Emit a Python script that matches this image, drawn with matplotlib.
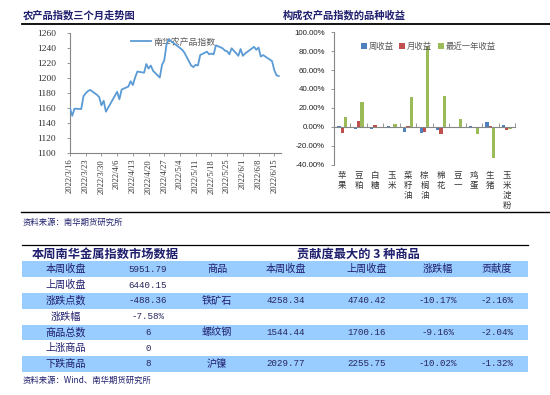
import matplotlib
matplotlib.use("Agg")
import matplotlib.pyplot as plt
import matplotlib.dates as mdates
from matplotlib.patches import Rectangle
from matplotlib.ticker import FuncFormatter, FixedLocator
import pandas as pd
import numpy as np

CJK = ['Noto Sans CJK SC', 'DejaVu Sans']
plt.rcParams['font.family'] = CJK
NAVY = '#1f1f6e'
GRAY_TXT = '#595959'
AXIS_C = '#868686'

# ---- 农产品指数 (line chart)
dates = ['2022-03-16', '2022-03-17', '2022-03-18', '2022-03-21', '2022-03-22', '2022-03-23',
         '2022-03-24', '2022-03-25', '2022-03-28', '2022-03-29', '2022-03-30', '2022-03-31',
         '2022-04-01', '2022-04-06', '2022-04-07', '2022-04-08', '2022-04-11', '2022-04-12',
         '2022-04-13', '2022-04-14', '2022-04-15', '2022-04-18', '2022-04-19', '2022-04-20',
         '2022-04-21', '2022-04-22', '2022-04-25', '2022-04-26', '2022-04-27', '2022-04-28',
         '2022-04-29', '2022-05-05', '2022-05-06', '2022-05-09', '2022-05-10', '2022-05-11',
         '2022-05-12', '2022-05-13', '2022-05-16', '2022-05-17', '2022-05-18', '2022-05-19',
         '2022-05-20', '2022-05-23', '2022-05-24', '2022-05-25', '2022-05-26', '2022-05-27',
         '2022-05-30', '2022-05-31', '2022-06-01', '2022-06-02', '2022-06-06', '2022-06-07',
         '2022-06-08', '2022-06-09', '2022-06-10', '2022-06-13', '2022-06-14', '2022-06-15',
         '2022-06-16', '2022-06-17']
index_vals = [1160, 1150, 1159.5, 1159, 1176, 1180,
              1183, 1184.5, 1178, 1175, 1164, 1170,
              1155.5, 1182, 1172, 1185, 1189, 1196,
              1191, 1201, 1209, 1207.5, 1219, 1213,
              1217, 1210, 1201, 1218, 1224, 1245,
              1252, 1238, 1234, 1217, 1215, 1218,
              1217, 1231, 1235.5, 1232, 1233, 1232,
              1244, 1240, 1237, 1236, 1232, 1240,
              1230, 1239, 1230, 1233, 1242, 1238,
              1241, 1229, 1231, 1225, 1223, 1211,
              1204, 1203]
tick_dates = ['2022-03-16', '2022-03-23', '2022-03-30', '2022-04-06', '2022-04-13', '2022-04-20',
              '2022-04-27', '2022-05-04', '2022-05-11', '2022-05-18', '2022-05-25', '2022-06-01',
              '2022-06-08', '2022-06-15']
line_label = '南华农产品指数'

# ---- 品种收益 (bar chart), percent
crops = ['苹果', '豆粕', '白糖', '玉米', '菜籽油', '棕榈油', '棉花', '豆一', '鸡蛋', '生猪', '玉米淀粉']
week_ret = [0.3, -2.0, -2.8, 0.7, -6.0, -6.4, -3.9, 0.1, 0.7, 4.6, 1.8]
month_ret = [-6.4, 6.4, 1.8, -1.5, 0.7, -5.3, -8.1, 0.1, -0.5, 1.0, -3.2]
year_ret = [10.6, 25.8, -1.0, 2.8, 31.1, 85.0, 32.5, 8.1, -7.8, -33.4, -2.8]
bar_series = ['周收益', '月收益', '最近一年收益']
bar_colors = ['#4f81bd', '#c0504d', '#9bbb59']

# ---- tables
left_labels = ['本周收盘', '上周收盘', '涨跌点数', '涨跌幅', '商品总数', '上涨商品', '下跌商品']
left_values = ['5951.79', '6440.15', '-488.36', '-7.58%', '6', '0', '8']
right_header = ['商品', '本周收盘', '上周收盘', '涨跌幅', '贡献度']
right_rows = [['铁矿石', '4258.34', '4740.42', '-10.17%', '-2.16%'],
              ['螺纹钢', '1544.44', '1700.16', '-9.16%', '-2.04%'],
              ['沪镍', '2029.77', '2255.75', '-10.02%', '-1.32%']]

W, H = 550, 395
fig = plt.figure(figsize=(W / 100, H / 100), dpi=100)
fig.patch.set_facecolor('white')


def fx(px):
    return px / W


def fy(py):
    return 1 - py / H


# overlay in pixel coords for titles, rules and tables
ov = fig.add_axes([0, 0, 1, 1])
ov.set_xlim(0, W)
ov.set_ylim(H, 0)
ov.axis('off')

ov.text(23, 15, '农产品指数三个月走势图', fontsize=7.4, fontweight='bold', color=NAVY, va='center')
ov.text(283, 15, '构成农产品指数的品种收益', fontsize=7.4, fontweight='bold', color=NAVY, va='center')
ov.plot([22, 550], [23.5, 23.5], color='black', lw=1.3)
ov.plot([21, 550], [212, 212], color='black', lw=1.0)
ov.text(23, 222, '资料来源：南华期货研究所', fontsize=6, color=NAVY, va='center')

# table block
ov.plot([22, 528], [245, 245], color='black', lw=0.9)
ov.text(32, 254.5, '本周南华金属指数市场数据', fontsize=8.8, fontweight='bold', color=NAVY, va='center')
ov.text(297, 254.5, '贡献度最大的 3 种商品', fontsize=8.8, fontweight='bold', color=NAVY, va='center')

row_top = 261.3
row_h = 15.8
for i in range(len(left_labels)):
    y0 = row_top + i * row_h
    if i % 2 == 0:
        ov.add_patch(Rectangle((22, y0), 506, row_h, facecolor='#99ccff', edgecolor='none'))
    yc = y0 + row_h / 2
    ov.text(66, yc, left_labels[i], fontsize=7.3, color=NAVY, ha='center', va='center')
    ov.text(148, yc, left_values[i], fontsize=6.6, color='#26265e', ha='center', va='center',
            family='Liberation Mono')

col_x = [217, 286, 367, 438, 497]
right_table = [right_header, None, right_rows[0], None, right_rows[1], None, right_rows[2]]
for i, row in enumerate(right_table):
    if row is None:
        continue
    yc = row_top + i * row_h + row_h / 2
    for j, cell in enumerate(row):
        if i == 0 or j == 0:
            ov.text(col_x[j], yc, cell, fontsize=7.3, color=NAVY, ha='center', va='center')
        else:
            ov.text(col_x[j], yc, cell, fontsize=6.6, color='#26265e', ha='center', va='center',
                    family='Liberation Mono')

ov.text(23, 380, '资料来源：Wind、南华期货研究所', fontsize=6, color=NAVY, va='center')

# ---- line chart
ax1 = fig.add_axes([fx(70), fy(153.3), fx(281) - fx(70), fy(33.3) - fy(153.3)])
ax1.set_facecolor('none')
d = pd.to_datetime(dates)
ax1.plot(d, index_vals, color='#5b9bd5', lw=1.3, label=line_label, zorder=3)
ax1.set_ylim(1100, 1260)
ax1.set_yticks(np.arange(1100, 1261, 20))
ax1.set_xlim(pd.Timestamp('2022-03-16'), pd.Timestamp('2022-06-18'))
ax1.xaxis.set_major_locator(FixedLocator(mdates.date2num(pd.to_datetime(tick_dates))))
ax1.xaxis.set_major_formatter(FuncFormatter(
    lambda v, p: '{0.year}/{0.month}/{0.day}'.format(mdates.num2date(v))))
for s in ['top', 'right']:
    ax1.spines[s].set_visible(False)
for s in ['left', 'bottom']:
    ax1.spines[s].set_color(AXIS_C)
    ax1.spines[s].set_linewidth(0.8)
ax1.tick_params(axis='y', length=2, width=0.6, color=AXIS_C, pad=8, labelsize=6.8, labelcolor='#333333')
ax1.tick_params(axis='x', length=2, width=0.6, color=AXIS_C, pad=2, labelsize=6.1, labelcolor='#333333',
                labelrotation=90)
for lb in ax1.get_yticklabels() + ax1.get_xticklabels():
    lb.set_family('Liberation Serif')
leg1 = ax1.legend(loc='center', bbox_to_anchor=(0.49, 0.927), frameon=False, fontsize=6.4,
                  handlelength=2.2, handletextpad=0.3, labelcolor=GRAY_TXT)
leg1.set_zorder(1)

# ---- bar chart
ax2 = fig.add_axes([fx(334), fy(164.5), fx(515) - fx(334), fy(32.3) - fy(164.5)])
ax2.set_facecolor('none')
x = np.arange(len(crops))
bw = 0.2
for k, (vals, name, c) in enumerate(zip([week_ret, month_ret, year_ret], bar_series, bar_colors)):
    ax2.bar(x + (k - 1) * bw, vals, width=bw, color=c, label=name, zorder=2)
ax2.set_xlim(-0.5, len(crops) - 0.5)
ax2.set_ylim(-40, 100)
ax2.set_yticks(np.arange(-40, 101, 20))
ax2.yaxis.set_major_formatter(FuncFormatter(lambda v, p: f'{v:.2f}%'))
ax2.spines['top'].set_visible(False)
ax2.spines['right'].set_visible(False)
ax2.spines['bottom'].set_position(('data', 0))
for s in ['left', 'bottom']:
    ax2.spines[s].set_color(AXIS_C)
    ax2.spines[s].set_linewidth(0.8)
ax2.set_xticks(np.arange(len(crops) + 1) - 0.5)
ax2.set_xticklabels([])
ax2.tick_params(axis='x', direction='in', length=3, width=0.6, color=AXIS_C)
ax2.tick_params(axis='y', length=2.5, width=0.6, color=AXIS_C, pad=4, labelsize=5.7, labelcolor='#222222')
for lb in ax2.get_yticklabels():
    lb.set_family('Liberation Sans')
for i, name in enumerate(crops):
    ax2.text(i, -46.5, '\n'.join(name), ha='center', va='top', fontsize=6.1, color='#333333',
             linespacing=1.15, clip_on=False)
ax2.legend(loc='center', bbox_to_anchor=(0.52, 0.896), ncol=3, frameon=False, fontsize=6.0,
           handlelength=0.7, handleheight=0.7, handletextpad=0.2, columnspacing=0.7,
           labelcolor=GRAY_TXT)

fig.savefig('out.png', dpi=100, facecolor='white')
